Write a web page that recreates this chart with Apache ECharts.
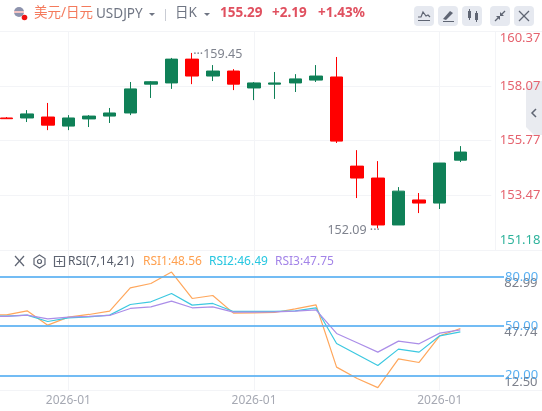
<!DOCTYPE html>
<html><head><meta charset="utf-8">
<style>html,body{margin:0;padding:0;background:#fff}#c{width:542px;height:411px}</style>
<script src="https://cdn.jsdelivr.net/npm/echarts@6/dist/echarts.min.js"></script>
</head><body><div id="c"></div>
<script>
const FONT='"Noto Sans","Noto Sans CJK SC",sans-serif';
const xLabels=['2025-12','2026-01','2026-01','2026-01','2026-01','2026-01','2026-01','2026-01','2026-01','2026-01','2026-01','2026-01','2026-01','2026-01','2026-01','2026-01','2026-01','2026-01','2026-01','2026-01','2026-01','2026-01','2026-01','2026-01',''];
const opens =[null,156.72,156.72,156.76,156.38,156.68,156.80,156.93,158.14,158.19,159.19,158.48,158.69,157.98,158.14,158.19,158.31,158.44,154.70,154.20,152.23,153.28,153.15,154.95,null];
const closes=[null,156.69,156.89,156.42,156.72,156.80,156.93,157.94,158.24,159.19,158.48,158.69,158.14,158.19,158.19,158.36,158.48,155.75,154.20,152.23,153.65,153.15,154.83,155.29,null];
const lows  =[null,156.69,156.55,156.21,156.21,156.34,156.51,156.84,157.56,157.94,158.14,158.27,157.89,157.47,157.52,157.81,158.23,155.67,153.36,152.09,152.23,152.73,152.90,154.87,null];
const highs =[null,156.76,157.05,157.35,156.84,156.84,157.14,158.23,158.27,159.24,159.45,158.94,158.77,158.23,158.65,158.56,158.94,159.28,155.37,154.91,153.82,153.57,154.83,155.54,null];
const rsi1=[56.91,56.91,59.36,50.61,55.49,57.12,59.15,73.39,76.03,82.99,66.88,68.71,57.93,58.13,58.34,60.58,63.02,24.98,18.07,12.50,30.07,27.83,44.10,48.56,null];
const rsi2=[56.10,56.10,56.71,52.85,55.08,55.69,56.71,63.22,64.85,69.93,62.81,63.83,58.95,58.95,58.95,59.36,61.19,39.42,32.71,26.00,35.97,34.14,44.10,46.49,null];
const rsi3=[55.90,55.90,56.71,54.47,55.49,55.90,56.51,60.78,61.80,65.25,61.19,61.80,58.54,58.54,58.74,59.15,59.97,45.53,39.83,34.14,40.85,39.22,45.73,47.75,null];
const priceTicks=[151.18,153.47,155.77,158.07,160.37];
const rsiTicks=[12.50,47.74,82.99];
const rsiLevels=[80,50,20];
const UP='#0f8057',DOWN='#ff0000',GRID='#f3f4f7';
const kData=opens.map((o,i)=>o===null?'-':[o,closes[i],lows[i],highs[i]]);
const levelLine=(v)=>[{x:0,yAxis:v,symbol:'none'},{x:504,yAxis:v,symbol:'none'}];
const txt=(x,y,t,fill,size,extra)=>({type:'text',x,y,silent:true,style:Object.assign({text:t,fill,font:`${(extra&&extra.weight)||'normal'} ${size}px ${FONT}`,textVerticalAlign:'middle',verticalAlign:'middle'},extra||{})});
const hline=(x1,x2,y,c)=>({type:'line',silent:true,shape:{x1,y1:y,x2,y2:y},style:{stroke:c||GRID,lineWidth:1}});
const vline=(x,y1,y2,c)=>({type:'line',silent:true,shape:{x1:x,y1,x2:x,y2},style:{stroke:c||GRID,lineWidth:1}});
const btn=(x)=>({type:'rect',silent:true,shape:{x,y:6,width:20,height:20,r:4},style:{fill:'#e6e9f0'}});
const poly=(pts,st)=>({type:'polyline',silent:true,shape:{points:pts},style:Object.assign({stroke:'#5f6573',lineWidth:1.2,fill:'none'},st||{})});
const fillp=(pts,c)=>({type:'polygon',silent:true,shape:{points:pts},style:{fill:c||'#5f6573'}});
const graphics=[
 hline(0,542,31.5),hline(0,542,250.5),hline(0,542,390.5),
 vline(495.5,31,250,GRID),
 {type:'circle',silent:true,shape:{cx:19,cy:12,r:5},style:{fill:'#8d93ad'}},
 {type:'rect',silent:true,shape:{x:14,y:11,width:10,height:2},style:{fill:'#f3c4c4'}},
 {type:'circle',silent:true,shape:{cx:24.5,cy:17.5,r:2.8},style:{fill:'#f01010'}},
 txt(34,13.5,'美元/日元','#f47a5c',13.5),
 txt(96,14.5,'USDJPY','#6f7583',13.5),
 fillp([[149,13],[155,13],[152,16]],'#6f7583'),
 vline(165.5,9,21,'#c9ccd4'),
 txt(175,13.5,'日K','#6f7583',13.5),
 fillp([[204,13],[210,13],[207,16]],'#6f7583'),
 txt(220,13.5,'155.29','#e0505f',13.5,{weight:'bold'}),
 txt(272,13.5,'+2.19','#e0505f',13.5,{weight:'bold'}),
 txt(318,13.5,'+1.43%','#e0505f',13.5,{weight:'bold'}),
 btn(414),btn(438),btn(462),btn(490),btn(514),
 poly([[418,17],[421,17],[423,12],[426,16],[428,15],[430,17]]),
 hline(418,430,20.5,'#5f6573'),
 fillp([[443,19],[450,11],[453,13],[446,20]]),hline(443,454,21.5,'#5f6573'),
 {type:'rect',silent:true,shape:{x:468,y:11,width:3,height:7},style:{fill:'#5f6573'}},vline(469.5,9,20,'#5f6573'),
 {type:'rect',silent:true,shape:{x:475,y:13,width:3,height:7},style:{fill:'#5f6573'}},vline(476.5,11,22,'#5f6573'),
 poly([[495,21],[499,17]]),fillp([[496,16],[500,16],[500,20]]),poly([[505,11],[501,15]]),fillp([[500,12],[500,16],[504,16]]),
 poly([[519,11],[529,21]]),poly([[529,11],[519,21]]),
 fillp([[542,81],[534,81],[526,88],[526,127],[534,135],[542,135]],'#e9ebf0'),
 poly([[536,109],[532,113],[536,117]],{lineWidth:1.5}),
 poly([[15,256],[24,266]]),poly([[24,256],[15,266]]),
 {type:'polygon',silent:true,shape:{points:[[39.5,255],[45,258.5],[45,264.5],[39.5,268],[34,264.5],[34,258.5]]},style:{stroke:'#5f6573',fill:'none',lineWidth:1.2}},
 {type:'circle',silent:true,shape:{cx:39.5,cy:261.5,r:2},style:{stroke:'#5f6573',fill:'none',lineWidth:1.2}},
 {type:'rect',silent:true,shape:{x:54.5,y:256.5,width:10,height:10},style:{stroke:'#5f6573',fill:'none',lineWidth:1.2}},
 hline(56.5,62.5,261.5,'#5f6573'),vline(59.5,258.5,264.5,'#5f6573'),
 txt(68,261.5,'RSI(7,14,21)','#555b69',12),
 txt(143,261.5,'RSI1:48.56','#ffa04f',12),
 txt(209,261.5,'RSI2:46.49','#26c6e0',12),
 txt(275,261.5,'RSI3:47.75','#a384e8',12),
];
const RED_L='#e5636f',TEAL_L='#2fb39c';
const option={
 animation:false,backgroundColor:'#fff',
 textStyle:{fontFamily:FONT},
 grid:[{left:-24.45,top:31,width:515.75,height:219,outerBoundsMode:'none'},{left:-24.45,top:250,width:515.75,height:140,outerBoundsMode:'none'}],
 xAxis:[
  {type:'category',gridIndex:0,data:xLabels,axisLine:{show:false},axisTick:{show:false},axisLabel:{show:false},
   splitLine:{show:true,alignWithLabel:true,interval:(i)=>i%9===4,lineStyle:{color:GRID}}},
  {type:'category',gridIndex:1,data:xLabels,axisLine:{show:false},axisTick:{show:false},
   axisLabel:{interval:(i)=>i%9===4,color:'#a6a9b3',fontSize:12,margin:5,fontFamily:FONT},
   splitLine:{show:true,alignWithLabel:true,interval:(i)=>i%9===4,lineStyle:{color:GRID}}}
 ],
 yAxis:[
  {type:'value',gridIndex:0,position:'right',min:151.18,max:160.37,offset:8.5,
   axisLine:{show:false},axisTick:{show:false,customValues:priceTicks},
   axisLabel:{customValues:priceTicks,margin:0,fontSize:13,fontFamily:FONT,color:RED_L,
     formatter:(v)=>{const s=v.toFixed(2);return v>160?`{top|${s}}`:v<152?`{bot|${s}}`:s;},
     rich:{top:{color:RED_L,fontSize:13,fontFamily:FONT,padding:[15,0,0,0]},
           bot:{color:TEAL_L,fontSize:13,fontFamily:FONT,padding:[0,0,19,0]}}},
   splitLine:{show:true,lineStyle:{color:GRID}}},
  {type:'value',gridIndex:1,position:'right',min:11.03,max:96.46,axisLine:{show:false},axisTick:{show:false},axisLabel:{show:false},splitLine:{show:false}},
  {type:'value',gridIndex:1,position:'right',min:6.80,max:106.49,offset:13,axisLine:{show:false},axisTick:{show:false},
   axisLabel:{customValues:rsiTicks,margin:0,fontSize:13,color:'#7d818c',fontFamily:FONT,formatter:(v)=>v.toFixed(2)},splitLine:{show:false}}
 ],
 series:[
  {type:'candlestick',xAxisIndex:0,yAxisIndex:0,data:kData,barWidth:13,clip:false,
   itemStyle:{color:UP,color0:DOWN,borderColor:UP,borderColor0:DOWN,borderWidth:1},
   markPoint:{symbol:'circle',symbolSize:0,silent:true,data:[
     {coord:[xLabels.length-15,159.45],label:{show:true,position:'right',distance:1,offset:[0,2],formatter:'···159.45',color:'#7f838e',fontSize:12.5,fontFamily:FONT}},
     {coord:[19,152.09],label:{show:true,position:'left',distance:0,offset:[2,2],formatter:'152.09 ···',color:'#7f838e',fontSize:12.5,fontFamily:FONT}}
   ]}},
  {type:'line',name:'RSI1',xAxisIndex:1,yAxisIndex:1,data:rsi1,showSymbol:false,symbol:'none',lineStyle:{color:'#ffa75c',width:1.2},
   markLine:{silent:true,symbol:'none',clip:false,animation:false,lineStyle:{color:'#5ab0f2',width:2,type:'solid',opacity:0.85},
     label:{show:true,position:'end',distance:1,color:'#3aa0ee',fontSize:13,fontFamily:FONT,formatter:(p)=>rsiLevels[p.dataIndex].toFixed(2)},
     data:rsiLevels.map(levelLine)}},
  {type:'line',name:'RSI2',xAxisIndex:1,yAxisIndex:1,data:rsi2,showSymbol:false,symbol:'none',lineStyle:{color:'#3cc8e0',width:1.2}},
  {type:'line',name:'RSI3',xAxisIndex:1,yAxisIndex:1,data:rsi3,showSymbol:false,symbol:'none',lineStyle:{color:'#ab8ee8',width:1.2}}
 ],
 graphic:{elements:graphics}
};
const chart=echarts.init(document.getElementById('c'),null,{renderer:'canvas'});
chart.setOption(option);
</script></body></html>
